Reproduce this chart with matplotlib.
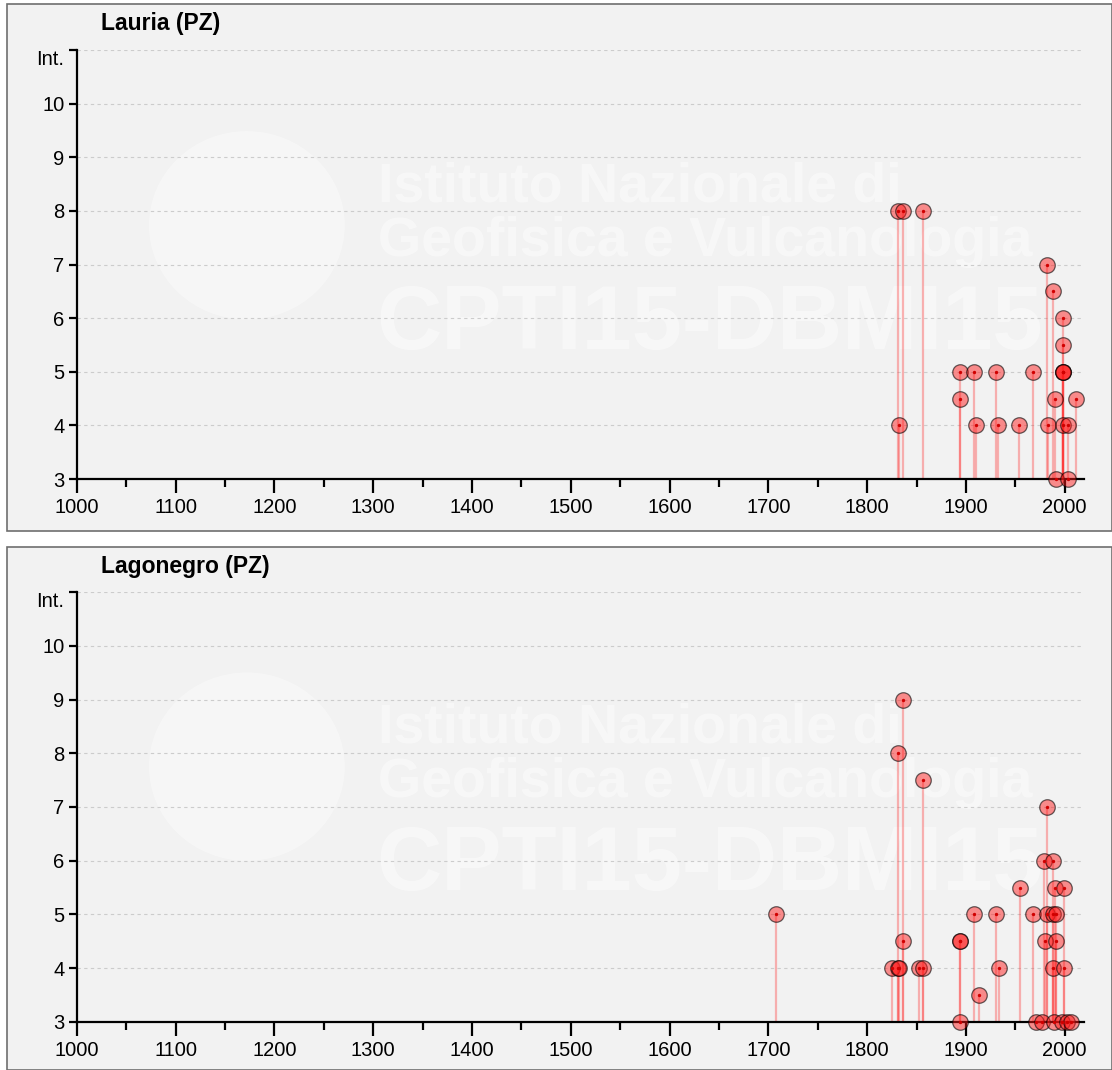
import matplotlib as mpl
mpl.use("Agg")
import matplotlib.pyplot as plt
from matplotlib.patches import Rectangle, Circle
from matplotlib.ticker import MultipleLocator

# Lauria (PZ): year of event, macroseismic intensity observed
LAURIA_YEARS = [1831, 1832, 1836, 1857, 1894, 1894, 1908, 1910, 1930, 1933,
                1954, 1968, 1982, 1983, 1988, 1990, 1991, 1998, 1998, 1998,
                1998, 1998, 1998, 2003, 2003, 2011]
LAURIA_INT = [8, 4, 8, 8, 4.5, 5, 5, 4, 5, 4,
              4, 5, 7, 4, 6.5, 4.5, 3, 6, 5.5, 5,
              5, 5, 4, 4, 3, 4.5]

# Lagonegro (PZ)
LAGONEGRO_YEARS = [1708, 1825, 1831, 1831, 1832, 1836, 1836, 1853, 1857, 1857,
                   1894, 1894, 1894, 1908, 1913, 1930, 1934, 1955, 1968, 1971,
                   1977, 1979, 1980, 1982, 1982, 1988, 1988, 1988, 1989, 1990,
                   1991, 1991, 1997, 1999, 1999, 2002, 2006]
LAGONEGRO_INT = [5, 4, 8, 4, 4, 9, 4.5, 4, 7.5, 4,
                 4.5, 4.5, 3, 5, 3.5, 5, 4, 5.5, 5, 3,
                 3, 6, 4.5, 7, 5, 6, 5, 4, 3, 5.5,
                 5, 4.5, 3, 5.5, 4, 3, 3]

PANELS = [
    ("Lauria (PZ)", LAURIA_YEARS, LAURIA_INT),
    ("Lagonegro (PZ)", LAGONEGRO_YEARS, LAGONEGRO_INT),
]

Y_TICKS = [3, 4, 5, 6, 7, 8, 9, 10, 11]
Y_LABELS = ["3", "4", "5", "6", "7", "8", "9", "10", "Int."]

plt.rcParams["font.family"] = ["Liberation Sans", "DejaVu Sans"]

fig = plt.figure(figsize=(11.12, 10.70), dpi=100, facecolor="white")

# panel frames (figure coords): (bottom, height)
frames = [(0.5037, 0.4926), (0.0, 0.4888)]
axes_pos = [(0.0692, 0.5523, 0.906, 0.4010),
            (0.0692, 0.0449, 0.906, 0.4018)]


def watermark(fb, fh):
    # faint INGV globe + text, drawn in figure coords under the axes
    fig.patches.append(Circle((0.222, fb + fh * 0.58), 0.088,
                              transform=fig.transFigure,
                              facecolor="white", alpha=0.38,
                              edgecolor="none", zorder=0.5))
    fig.text(0.34, fb + fh * 0.652, "Istituto Nazionale di", color="white",
             alpha=0.45, fontsize=40, fontweight="bold", va="center",
             ha="left", zorder=0.6)
    fig.text(0.34, fb + fh * 0.548, "Geofisica e Vulcanologia", color="white",
             alpha=0.45, fontsize=40, fontweight="bold", va="center",
             ha="left", zorder=0.6)
    fig.text(0.338, fb + fh * 0.39, "CPTI15-DBMI15", color="white",
             alpha=0.45, fontsize=65, fontweight="bold", va="center",
             ha="left", zorder=0.6)


for (title, years, ints), (fb, fh), pos in zip(PANELS, frames, axes_pos):
    fig.patches.append(Rectangle((0.0063, fb), 0.9937, fh,
                                 transform=fig.transFigure,
                                 facecolor="#f2f2f2", edgecolor="#6e6e6e",
                                 linewidth=1.2, zorder=0))
    watermark(fb, fh)

    ax = fig.add_axes(pos)
    ax.set_zorder(2)
    ax.patch.set_visible(False)
    ax.set_xlim(1000, 2020)
    ax.set_ylim(3, 11)

    for y in Y_TICKS[1:]:
        ax.axhline(y, color="#cccccc", linewidth=0.8,
                   linestyle=(0, (3, 3)), zorder=1)

    ax.vlines(years, 3, ints, color="#ff3030", alpha=0.35, linewidth=1.6,
              zorder=2)
    ax.scatter(years, ints, s=125, facecolor=(1, 0.1, 0.1, 0.48),
               edgecolor=(0, 0, 0, 0.6), linewidth=0.9, zorder=3,
               clip_on=False)
    ax.scatter(years, ints, s=2, color="#d00000", zorder=4, clip_on=False)

    for side in ("top", "right"):
        ax.spines[side].set_visible(False)
    ax.spines["left"].set_linewidth(1.6)
    ax.spines["bottom"].set_linewidth(1.6)

    ax.set_yticks(Y_TICKS)
    ax.set_yticklabels(Y_LABELS)
    ax.get_yticklabels()[-1].set_verticalalignment("top")
    ax.xaxis.set_major_locator(MultipleLocator(100))
    ax.xaxis.set_minor_locator(MultipleLocator(50))
    ax.tick_params(axis="x", which="major", length=10, width=1.6,
                   labelsize=14.5, pad=4)
    ax.tick_params(axis="x", which="minor", length=6, width=1.6)
    ax.tick_params(axis="y", length=6, width=1.6, labelsize=14.5, pad=3)

    fig.text(0.091, fb + fh - 0.018, title, fontsize=16.5, fontweight="bold",
             va="center", ha="left")

fig.savefig("out.png", dpi=100, facecolor="white")
